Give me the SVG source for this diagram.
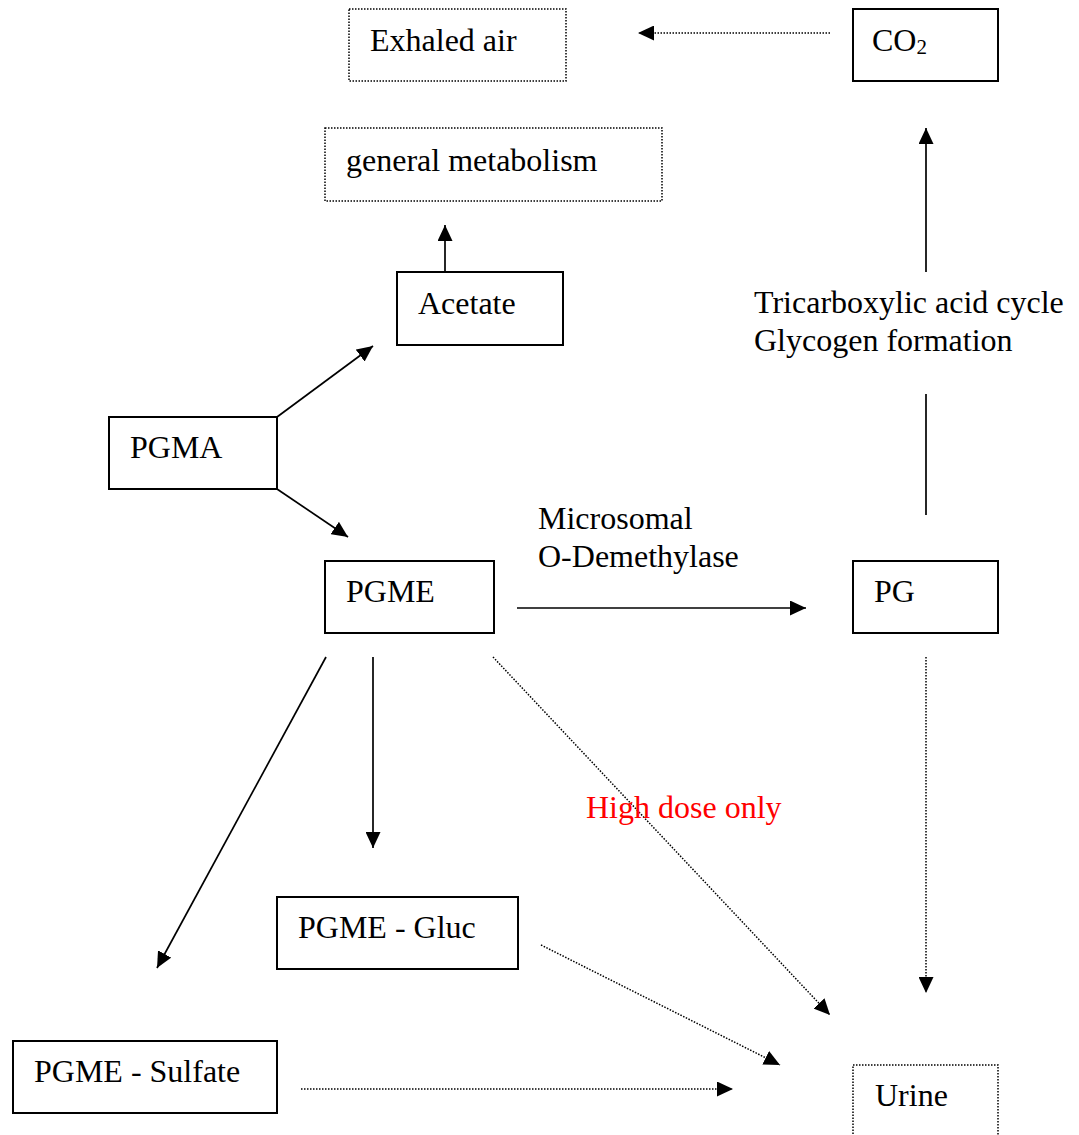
<svg xmlns="http://www.w3.org/2000/svg" width="1079" height="1135" viewBox="0 0 1079 1135">
<style>
text{font-family:"Liberation Serif","Times New Roman",serif;font-size:32px;fill:#000}
.box{fill:#fff;stroke:#000;stroke-width:2}
.dbox{fill:#fff;stroke:#000;stroke-width:1.5;stroke-dasharray:1.5 1.5}
.ln{stroke:#000;stroke-width:1.7;fill:none}
.dl{stroke:#000;stroke-width:1.5;fill:none;stroke-dasharray:1.5 1.5}
.red{fill:#ff0000}
</style>
<defs>
<marker id="ah" viewBox="0 0 16 15" refX="16" refY="7.5" markerWidth="16" markerHeight="15" markerUnits="userSpaceOnUse" orient="auto">
<path d="M0,0 L16,7.5 L0,15 z" fill="#000"/>
</marker>
</defs>
<g id="connectors">
<line class="dl" x1="830" y1="33" x2="638" y2="33" marker-end="url(#ah)"/>
<line class="ln" x1="445" y1="272" x2="445" y2="225" marker-end="url(#ah)"/>
<line class="ln" x1="277" y1="417" x2="373" y2="346" marker-end="url(#ah)"/>
<line class="ln" x1="277" y1="489" x2="348" y2="537" marker-end="url(#ah)"/>
<line class="ln" x1="517" y1="608" x2="806" y2="608" marker-end="url(#ah)"/>
<line class="ln" x1="926" y1="272" x2="926" y2="128" marker-end="url(#ah)"/>
<line class="ln" x1="926" y1="394" x2="926" y2="515"/>
<line class="dl" x1="926" y1="657" x2="926" y2="993" marker-end="url(#ah)"/>
<line class="ln" x1="326" y1="657" x2="157" y2="968" marker-end="url(#ah)"/>
<line class="ln" x1="373" y1="657" x2="373" y2="848" marker-end="url(#ah)"/>
<line class="dl" x1="493" y1="657" x2="830" y2="1015" marker-end="url(#ah)"/>
<line class="dl" x1="541" y1="945" x2="780" y2="1065" marker-end="url(#ah)"/>
<line class="dl" x1="301" y1="1089" x2="733" y2="1089" marker-end="url(#ah)"/>
<text x="538" y="529">Microsomal</text>
<text x="538" y="567">O-Demethylase</text>
<text x="754" y="313">Tricarboxylic acid cycle</text>
<text x="754" y="351">Glycogen formation</text>
<text class="red" x="586" y="818">High dose only</text>
</g>
<g id="exhaled-air"><rect class="dbox" x="349" y="9" width="217" height="72"/><text x="370" y="51">Exhaled air</text></g>
<g id="co2"><rect class="box" x="853" y="9" width="145" height="72"/><text x="872" y="51">CO<tspan font-size="21" dy="3">2</tspan></text></g>
<g id="general-metabolism"><rect class="dbox" x="325" y="128" width="337" height="73"/><text x="346" y="171">general metabolism</text></g>
<g id="acetate"><rect class="box" x="397" y="272" width="166" height="73"/><text x="418" y="314">Acetate</text></g>
<g id="pgma"><rect class="box" x="109" y="417" width="168" height="72"/><text x="130" y="458">PGMA</text></g>
<g id="pgme"><rect class="box" x="325" y="561" width="169" height="72"/><text x="346" y="602">PGME</text></g>
<g id="pg"><rect class="box" x="853" y="561" width="145" height="72"/><text x="874" y="602">PG</text></g>
<g id="pgme-gluc"><rect class="box" x="277" y="897" width="241" height="72"/><text x="298" y="938">PGME - Gluc</text></g>
<g id="pgme-sulfate"><rect class="box" x="13" y="1041" width="264" height="72"/><text x="34" y="1082">PGME - Sulfate</text></g>
<g id="urine"><rect class="dbox" x="853" y="1065" width="145" height="80"/><text x="875" y="1106">Urine</text></g>
</svg>
